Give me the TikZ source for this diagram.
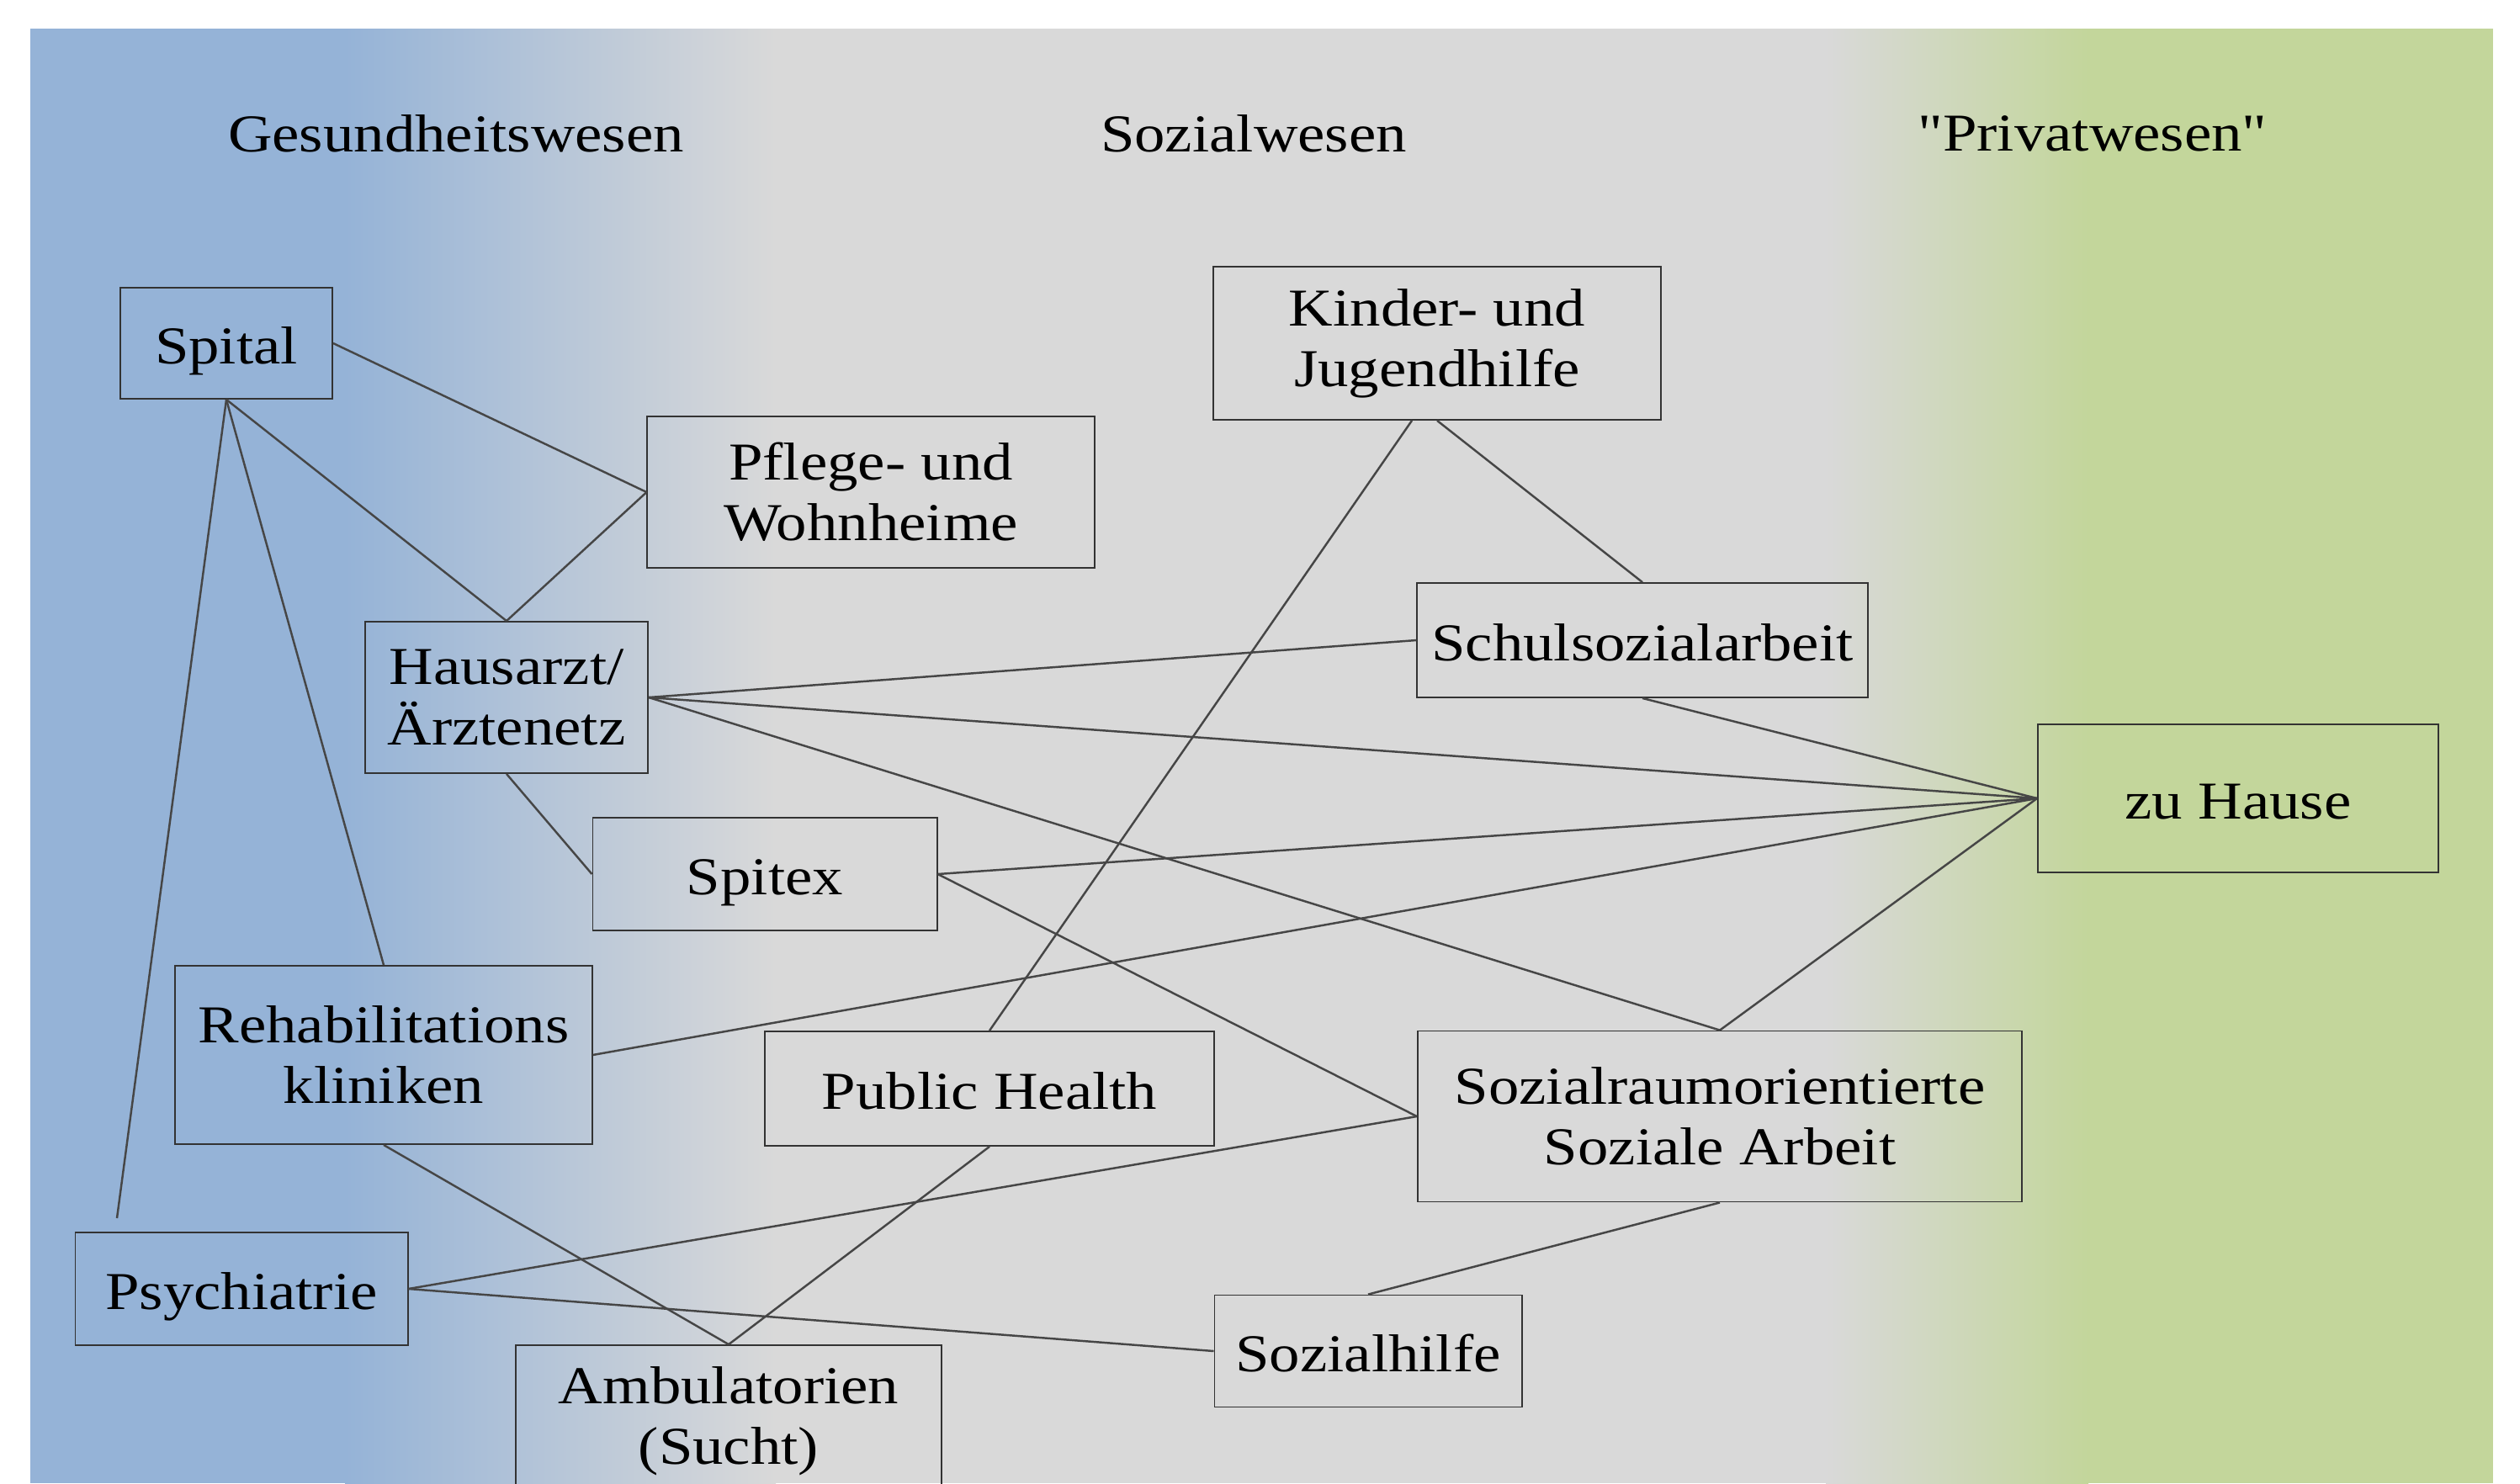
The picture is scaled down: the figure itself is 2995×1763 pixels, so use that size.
\documentclass[tikz,border=0pt]{standalone}
\usepackage{fontspec}
\setmainfont{Liberation Serif}[FakeStretch=1.15]
\newfontfamily\pqfont{Liberation Serif}[FakeStretch=1.15]
\definecolor{bgblue}{RGB}{149,179,215}
\definecolor{bggray}{RGB}{217,217,217}
\definecolor{bggreen}{RGB}{195,214,155}
\definecolor{linegray}{RGB}{70,70,70}
\tikzset{
  box/.style={draw=black!80, line width=0.5pt, inner sep=0pt, align=center,
    font=\fontsize{18}{20.5}\selectfont},
  oneline/.style={box, text height=16pt, text depth=2pt},
  twoline/.style={box, yshift=-0.04cm},
  head/.style={inner sep=0pt, font=\fontsize{18}{20.5}\selectfont},
  conn/.style={draw=linegray, line width=0.7pt}
}
\begin{document}
\begin{tikzpicture}[x=0.01cm, y=-0.01cm]
\useasboundingbox (0,0) rectangle (2995,1763);
% background
\fill[bgblue] (36,34) rectangle (412,1763);
\shade[left color=bgblue, right color=bggray] (410,34) rectangle (922,1763);
\fill[bggray] (920,34) rectangle (2172,1763);
\shade[left color=bggray, right color=bggreen] (2170,34) rectangle (2482,1763);
\fill[bggreen] (2480,34) rectangle (2963,1763);

% headers
\node[head] (h1) at (542,159) {Gesundheitswesen};
\node[head] (h2) at (1490,159) {Sozialwesen};
\node[head] (h3) at (2487,159) {\pqfont"Privatwesen"};

% nodes
\node[oneline, minimum width=2.52cm, minimum height=1.32cm] (spital) at (269,408) {Spital};
\node[box, minimum width=5.31cm, minimum height=1.80cm] (pflege) at (1035,585) {Pflege- und\\Wohnheime};
\node[box, minimum width=3.36cm, minimum height=1.80cm] (haus) at (602,829) {Hausarzt/\\Ärztenetz};
\node[oneline, minimum width=4.09cm, minimum height=1.34cm] (spitex) at (909,1039) {Spitex};
\node[box, minimum width=4.95cm, minimum height=2.12cm] (reha) at (456,1254) {Rehabilitations\\kliniken};
\node[oneline, minimum width=3.95cm, minimum height=1.34cm] (psy) at (287,1532) {Psychiatrie};
\node[box, minimum width=5.06cm, minimum height=1.80cm] (amb) at (866,1689) {Ambulatorien\\(Sucht)};
\node[oneline, minimum width=5.33cm, minimum height=1.36cm] (ph) at (1176,1294) {Public Health};
\node[box, minimum width=5.31cm, minimum height=1.82cm] (kjh) at (1708,408) {Kinder- und\\Jugendhilfe};
\node[oneline, minimum width=5.35cm, minimum height=1.36cm] (schul) at (1952,761) {Schulsozialarbeit};
\node[oneline, minimum width=4.76cm, minimum height=1.76cm] (home) at (2660,949) {zu Hause};
\node[box, minimum width=7.18cm, minimum height=2.03cm] (sra) at (2044,1327) {Sozialraumorientierte\\Soziale Arbeit};
\node[oneline, minimum width=3.65cm, minimum height=1.33cm] (shilfe) at (1626,1606) {Sozialhilfe};

\coordinate (psyend) at (139,1448);

% connectors
\draw[conn] (spital.east) -- (pflege.west);
\draw[conn] (spital.south) -- (haus.north);
\draw[conn] (haus.north) -- (pflege.west);
\draw[conn] (spital.south) -- (reha.north);
\draw[conn] (spital.south) -- (psyend);
\draw[conn] (haus.east) -- (schul.west);
\draw[conn] (haus.east) -- (home.west);
\draw[conn] (haus.east) -- (sra.north);
\draw[conn] (haus.south) -- (spitex.west);
\draw[conn] ([xshift=-0.3cm]kjh.south) -- (ph.north);
\draw[conn] (kjh.south) -- (schul.north);
\draw[conn] (schul.south) -- (home.west);
\draw[conn] (spitex.east) -- (home.west);
\draw[conn] (spitex.east) -- (sra.west);
\draw[conn] (reha.east) -- (home.west);
\draw[conn] (sra.north) -- (home.west);
\draw[conn] (reha.south) -- (amb.north);
\draw[conn] (ph.south) -- (amb.north);
\draw[conn] (psy.east) -- (sra.west);
\draw[conn] (psy.east) -- (shilfe.west);
\draw[conn] (sra.south) -- (shilfe.north);
\end{tikzpicture}
\end{document}
